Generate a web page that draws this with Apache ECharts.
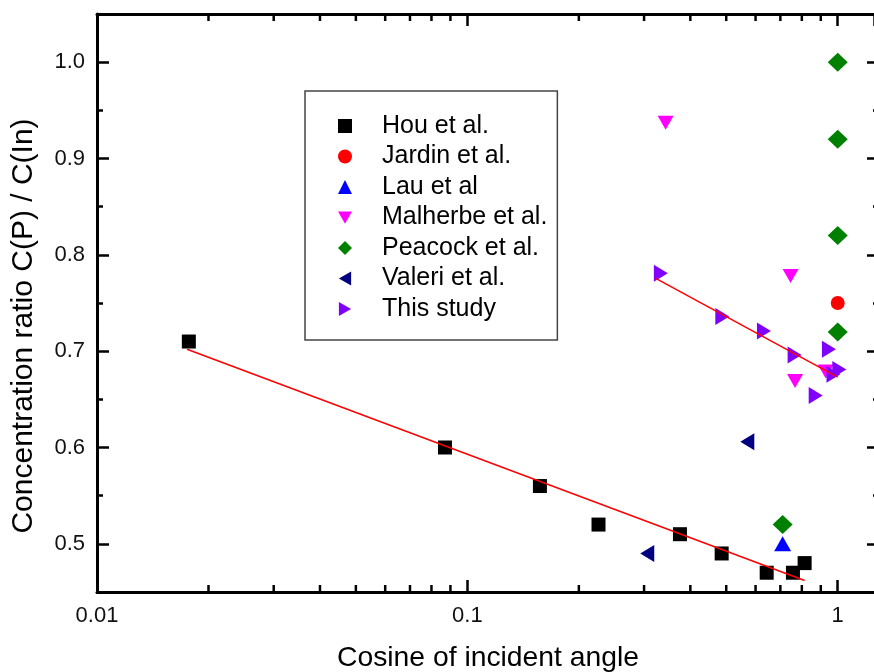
<!DOCTYPE html>
<html>
<head>
<meta charset="utf-8">
<script src="https://cdn.jsdelivr.net/npm/echarts@6/dist/echarts.min.js"></script>
<style>
  html, body { margin: 0; padding: 0; background: #fff; }
  #chart { width: 874px; height: 672px; }
</style>
</head>
<body>
<div id="chart"></div>
<script>
// 数据
var houData = [[0.0177, 0.71], [0.087, 0.60], [0.157, 0.56], [0.226, 0.52], [0.375, 0.51],
	[0.486, 0.49], [0.643, 0.47], [0.757, 0.47], [0.814, 0.48]];
var jardinData = [[1.0, 0.75]];
var lauData = [[0.71, 0.50]];
var malherbeData = [[0.343, 0.937], [0.746, 0.778], [0.767, 0.669], [0.928, 0.679]];
var peacockData = [[1.0, 1.0], [1.0, 0.92], [1.0, 0.82], [1.0, 0.72], [0.71, 0.52]];
var valeriData = [[0.306, 0.49], [0.57, 0.606]];
var studyData = [[0.333, 0.781], [0.488, 0.736], [0.632, 0.721], [0.765, 0.696],
	[0.947, 0.702], [0.974, 0.676], [1.01, 0.681], [0.872, 0.654]];
// 拟合直线端点
var houFit = [[0.0175, 0.702], [0.814, 0.462]];
var studyFit = [[0.3226, 0.7755], [1.0, 0.673]];

var seriesNames = ['Hou et al.', 'Jardin et al.', 'Lau et al', 'Malherbe et al.', 'Peacock et al.', 'Valeri et al.', 'This study'];
var xMinorTicks = [0.02, 0.03, 0.04, 0.05, 0.06, 0.07, 0.08, 0.09, 0.2, 0.3, 0.4, 0.5, 0.6, 0.7, 0.8, 0.9];
var xTickLabels = ['0.01', '0.1', '1'];

var X_MIN = 0.01, X_MAX = 1.253, Y_MIN = 0.45, Y_MAX = 1.05;
var FONT = '"Liberation Sans", Arial, sans-serif';

// 图例图标（三角形方向与散点一致）
var legendIcons = ['rect', 'circle', 'triangle', 'path://M0,0L16,0L8,14Z', 'diamond',
	'path://M14,0L14,16L0,8Z', 'path://M0,0L0,16L14,8Z'];

var chart = echarts.init(document.getElementById('chart'));

var axisLine = { show: true, lineStyle: { color: '#000', width: 3 } };
var tick = { show: true, inside: true, length: 12, lineStyle: { color: '#000', width: 2.5 } };
var minor = { show: true, splitNumber: 2, length: 6, lineStyle: { color: '#000', width: 2.5 } };

function scatter(name, data, symbol, size, color, rotate) {
	return {
		name: name,
		type: 'scatter',
		data: data,
		symbol: symbol,
		symbolSize: size,
		symbolRotate: rotate || 0,
		itemStyle: { color: color, opacity: 1 },
		z: 3
	};
}

function fitLine(data) {
	return {
		type: 'line',
		data: data,
		symbol: 'none',
		lineStyle: { color: '#ff0000', width: 1.5 },
		z: 5,
		silent: true
	};
}

chart.setOption({
	animation: false,
	backgroundColor: '#fff',
	textStyle: { fontFamily: FONT },
	grid: { left: 97, top: 14, width: 777, height: 578 },
	legend: {
		data: seriesNames.map(function (n, i) { return { name: n, icon: legendIcons[i] }; }),
		orient: 'vertical',
		left: 305,
		top: 91,
		padding: [20, 10, 16, 33],
		itemGap: 0.5,
		itemWidth: 14,
		itemHeight: 14,
		borderColor: '#444',
		borderWidth: 1.5,
		textStyle: { fontSize: 25, lineHeight: 30, color: '#000', fontFamily: FONT, padding: [0, 0, 0, 25] }
	},
	xAxis: [
		{
			type: 'log', logBase: 10, min: X_MIN, max: X_MAX,
			axisLine: axisLine, axisTick: tick, splitLine: { show: false },
			axisLabel: {
				fontSize: 22, color: '#111', margin: 13, showMaxLabel: false,
				formatter: function (v) {
					var s = String(+(+v).toPrecision(3));
					return xTickLabels.indexOf(s) >= 0 ? s : '';
				}
			}
		},
		{
			type: 'log', logBase: 10, min: X_MIN, max: X_MAX, position: 'top',
			axisLine: axisLine, axisTick: tick, axisLabel: { show: false }, splitLine: { show: false }
		}
	],
	yAxis: [
		{
			type: 'value', min: Y_MIN, max: Y_MAX, splitNumber: 6,
			axisLine: axisLine, axisTick: tick, minorTick: minor, splitLine: { show: false },
			axisLabel: {
				fontSize: 22, color: '#111', margin: 12, showMinLabel: false, showMaxLabel: false,
				formatter: function (v) { return v.toFixed(1); }
			}
		},
		{
			// 右侧边框在画面外，只露出刻度
			type: 'value', min: Y_MIN, max: Y_MAX, splitNumber: 6, position: 'right', offset: 5,
			axisLine: { show: false }, axisTick: tick, minorTick: minor, splitLine: { show: false },
			axisLabel: { show: false }
		}
	],
	graphic: [
		{
			type: 'text', x: 488, y: 658,
			style: { text: 'Cosine of incident angle', fontSize: 28.3, fontFamily: FONT, fill: '#000',
				textAlign: 'center', textVerticalAlign: 'middle' }
		},
		{
			type: 'text', x: 24, y: 326, rotation: Math.PI / 2,
			style: { text: 'Concentration ratio C(P) / C(In)', fontSize: 30, fontFamily: FONT, fill: '#000',
				textAlign: 'center', textVerticalAlign: 'middle' }
		}
	],
	series: [
		scatter(seriesNames[0], houData, 'rect', 14, '#000000'),
		scatter(seriesNames[1], jardinData, 'circle', 14, '#ff0000'),
		scatter(seriesNames[2], lauData, 'triangle', [17, 15], '#0000ff'),
		scatter(seriesNames[3], malherbeData, 'triangle', [16, 14], '#ff00ff', 180),
		scatter(seriesNames[4], peacockData, 'diamond', [20, 19], '#008000'),
		scatter(seriesNames[5], valeriData, 'triangle', [17, 14], '#000080', 90),
		scatter(seriesNames[6], studyData, 'triangle', [17, 14], '#8000ff', -90),
		fitLine(houFit),
		fitLine(studyFit),
		{
			// x轴次刻度（对数轴 2~9）
			type: 'custom',
			silent: true,
			z: 6,
			data: xMinorTicks.map(function (v) { return [v, Y_MIN]; }),
			renderItem: function (params, api) {
				var v = api.value(0);
				var b = api.coord([v, Y_MIN]);
				var t = api.coord([v, Y_MAX]);
				var st = { stroke: '#000', lineWidth: 2.5 };
				return {
					type: 'group',
					children: [
						{ type: 'line', shape: { x1: b[0], y1: b[1], x2: b[0], y2: b[1] - 7 }, style: st },
						{ type: 'line', shape: { x1: t[0], y1: t[1], x2: t[0], y2: t[1] + 7 }, style: st }
					]
				};
			}
		}
	]
});
</script>
</body>
</html>
